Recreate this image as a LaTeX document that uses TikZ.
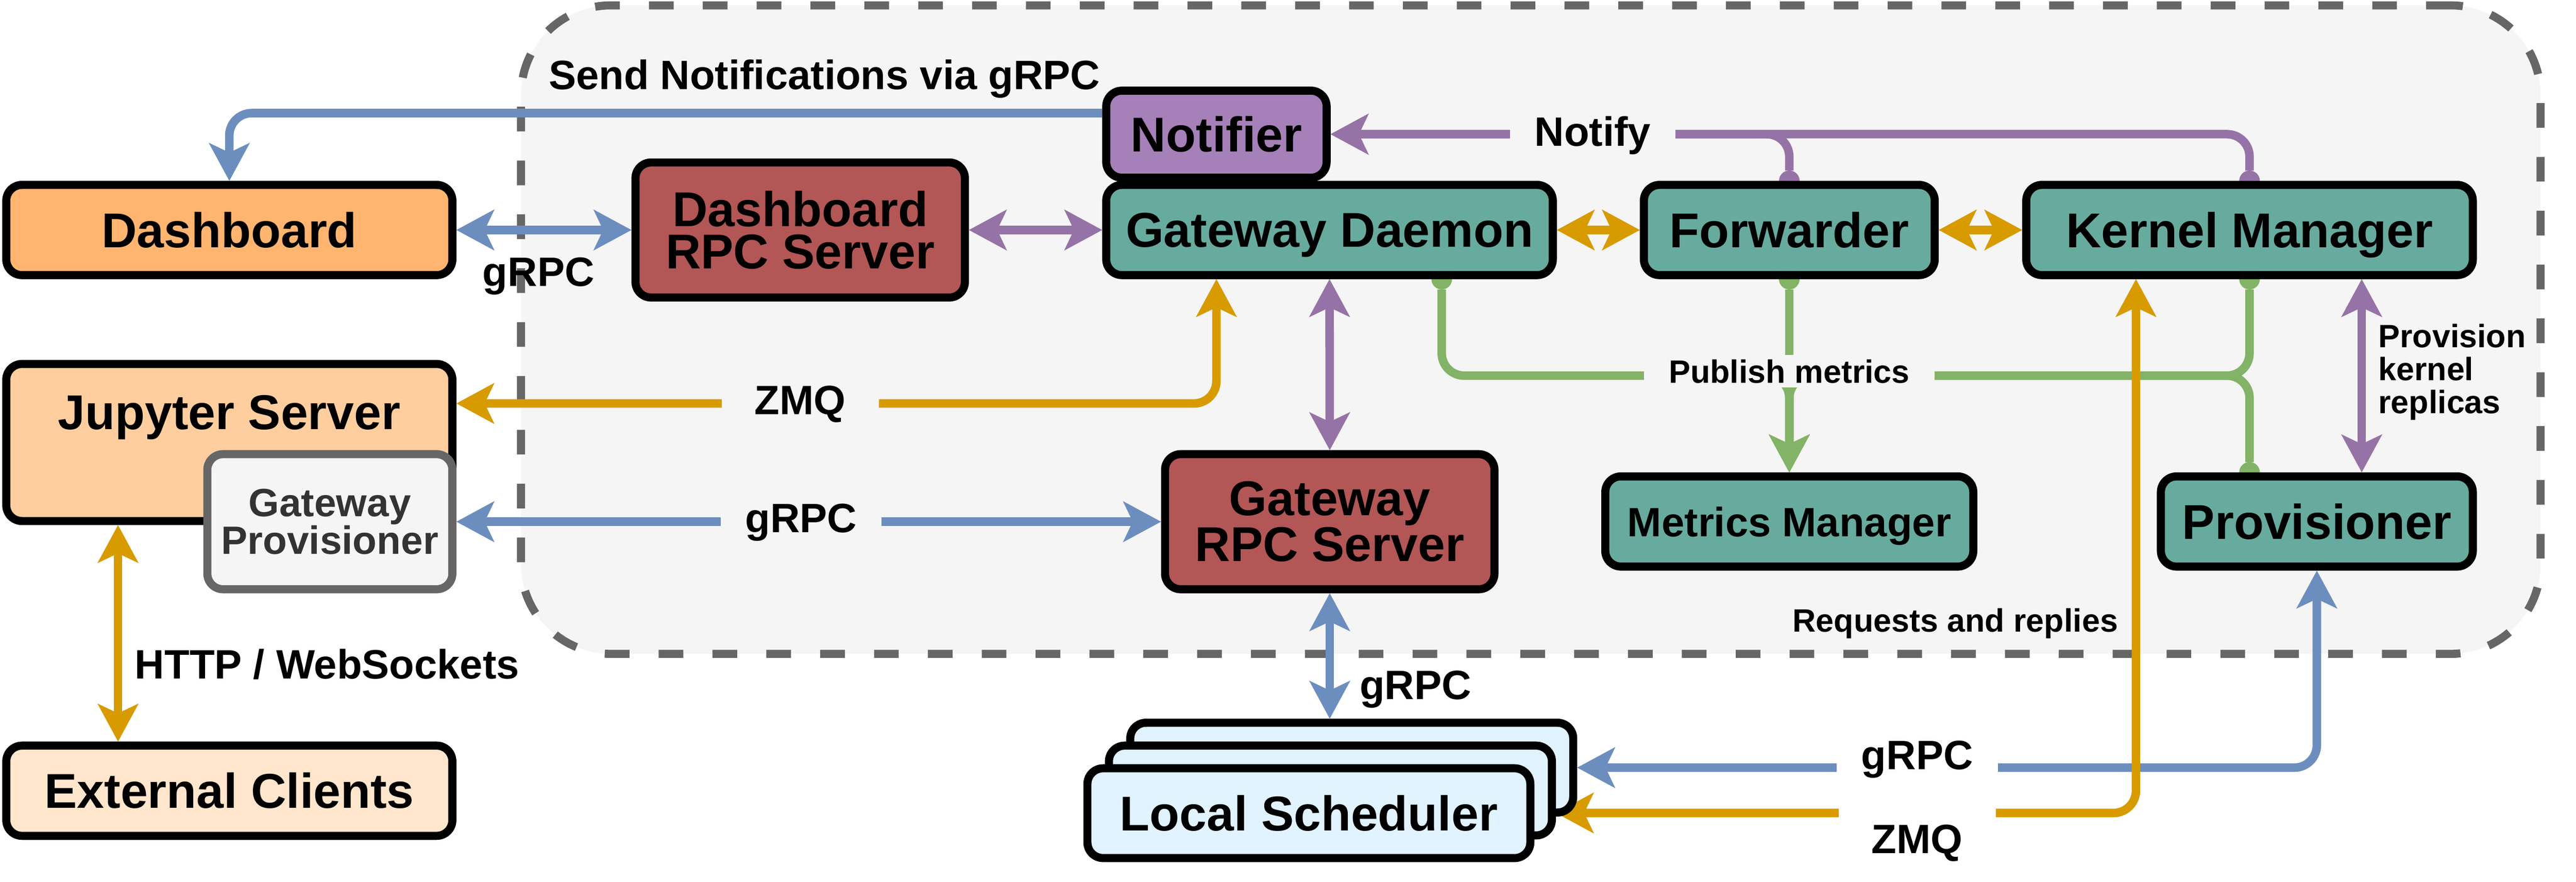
\documentclass[tikz,border=0pt]{standalone}
\usepackage{fontspec}
\setmainfont{Liberation Sans}
\usetikzlibrary{arrows.meta,positioning,calc}

\definecolor{dashorange}{HTML}{FFB570}
\definecolor{juporange}{HTML}{FFCE9F}
\definecolor{clientpeach}{HTML}{FFE6CC}
\definecolor{rpcred}{HTML}{B35656}
\definecolor{svcteal}{HTML}{67AB9F}
\definecolor{notepurple}{HTML}{A680B8}
\definecolor{schedblue}{HTML}{E1F3FE}
\definecolor{panelgray}{HTML}{F5F5F5}
\definecolor{edgegray}{HTML}{666666}
\definecolor{textgray}{HTML}{333333}
\definecolor{grpcblue}{HTML}{6C8EBF}
\definecolor{zmqgold}{HTML}{D79B00}
\definecolor{ctrlpurple}{HTML}{9673A6}
\definecolor{metricgreen}{HTML}{82B366}

\pgfdeclarelayer{back}
\pgfdeclarelayer{wires}
\pgfsetlayers{back,wires,main}

\tikzset{
    cluster/.style={
    rectangle,rounded corners=2cm,draw=edgegray,fill=panelgray,line width=0.18cm,
    dash pattern=on 0.55cm off 0.65cm,minimum width=45cm,minimum height=14.45cm,inner sep=0pt
    },
    component/.style={
    rectangle,rounded corners=0.35cm,draw=black,line width=0.18cm,inner sep=0pt,align=center,
    font=\fontsize{31}{27}\selectfont\bfseries
    },
    uibox/.style={
    component,minimum width=9.94cm,minimum height=2.01cm
    },
    rpcbox/.style={
    component,fill=rpcred,minimum width=7.34cm,minimum height=3.01cm
    },
    svcbox/.style={
    component,fill=svcteal,minimum height=2.01cm,text depth=0pt
    },
    notebox/.style={
    component,fill=notepurple,minimum width=4.91cm,minimum height=1.94cm
    },
    provbox/.style={
    component,draw=edgegray,fill=panelgray,text=textgray,minimum width=5.46cm,minimum height=3.01cm,
    font=\fontsize{25}{24}\selectfont\bfseries
    },
    schedbox/.style={
    component,fill=schedblue,minimum width=9.87cm,minimum height=2.0cm
    },
    edgelabel/.style={
    font=\fontsize{26}{26}\selectfont\bfseries,inner sep=0pt
    },
    cutlabel/.style={
    edgelabel,fill=panelgray,inner xsep=0.55cm,inner ysep=0.1cm,minimum width=3.5cm
    },
    smalllabel/.style={
    font=\fontsize{20.5}{21}\selectfont\bfseries,inner sep=0pt,align=left
    },
    conn/.style={
    line width=0.19cm,rounded corners=0.5cm
    },
    grpcconn/.style={conn,draw=grpcblue},
    zmqconn/.style={conn,draw=zmqgold},
    ctrlconn/.style={conn,draw=ctrlpurple},
    metricconn/.style={conn,draw=metricgreen},
    tap/.style={
    arrows={Circle[length=0.46cm,line width=0pt]->},shorten <=-0.23cm
    },
}

\begin{document}
\begin{tikzpicture}[>={Stealth[length=0.85cm,width=0.92cm,inset=0.22cm,line width=0pt]}]
   \useasboundingbox (0,0) rectangle (57.4,-19.65);

   \begin{pgfonlayer}{back}
   \node[cluster] (core) at (34.11,-7.345) {};
   \end{pgfonlayer}

   %top row
   \node[uibox,fill=dashorange] (dash) at (5.11,-5.125) {Dashboard};
   \node[rpcbox] (dashrpc) at (17.83,-5.125) {Dashboard\\RPC Server};
   \node[notebox] (notifier) at (27.105,-2.99) {Notifier};
   \node[svcbox,minimum width=9.95cm] (gdaemon) at (29.625,-5.125) {Gateway Daemon};
   \node[svcbox,minimum width=6.48cm] (fwd) at (39.87,-5.125) {Forwarder};
   \node[svcbox,minimum width=9.95cm] (kmgr) at (50.125,-5.125) {Kernel Manager};

   %middle row
   \node[uibox,fill=juporange,minimum height=3.5cm,
     label={[anchor=base,yshift=-1.55cm,inner sep=0pt,font=\fontsize{31}{27}\selectfont\bfseries]north:Jupyter Server}]
     (jupyter) at (5.11,-9.86) {};
   \node[provbox] (gprov) at (7.35,-11.625) {Gateway\\Provisioner};
   \node[rpcbox] (grpc) at (29.63,-11.625) {Gateway\\RPC Server};
   \node[svcbox,minimum width=8.2cm,font=\fontsize{26}{26}\selectfont\bfseries] (metrics) at (39.87,-11.62) {Metrics Manager};
   \node[svcbox,minimum width=6.95cm] (prov) at (51.625,-11.62) {Provisioner};

   %bottom row
   \node[uibox,fill=clientpeach] (extc) at (5.11,-17.62) {External Clients};
   \node[schedbox] (lsback) at (30.12,-17.105) {};
   \node[schedbox] (lsmid) at (29.645,-17.615) {};
   \node[schedbox] (lsfront) at (29.165,-18.12) {Local Scheduler};

   %labels
   \node[edgelabel,anchor=base] (sendlbl) at (18.37,-1.99) {Send Notifications via gRPC};
   \node[edgelabel,anchor=base] (dashlbl) at (12.0,-6.38) {gRPC};
   \node[cutlabel,anchor=base] (notifylbl) at (35.49,-3.25) {Notify};
   \node[cutlabel,anchor=base] (zmqa) at (17.83,-9.23) {ZMQ};
   \node[cutlabel,anchor=base] (grpca) at (17.85,-11.86) {gRPC};
   \node[edgelabel,anchor=base west] (httplbl) at (3.0,-15.13) {HTTP / WebSockets};
   \node[edgelabel,anchor=base west] (grpcb) at (30.29,-15.58) {gRPC};
   \node[cutlabel,anchor=base,font=\fontsize{20.5}{21}\selectfont\bfseries] (pubm) at (39.87,-8.53) {Publish metrics};
   \node[smalllabel,anchor=base] (reqlbl) at (43.57,-14.08) {Requests and replies};
   \node[smalllabel,anchor=west] (provlbl) at (52.99,-8.29) {Provision\\kernel\\replicas};
   \node[cutlabel,fill=white,anchor=base] (grpcc) at (42.72,-17.14) {gRPC};
   \node[cutlabel,fill=white,anchor=base,inner ysep=0.45cm] (zmqb) at (42.72,-19.02) {ZMQ};
   \coordinate (hub) at (39.87,-8.37);

   \begin{pgfonlayer}{wires}
   %dashboard side
   \draw[grpcconn,->] ([yshift=0.47cm]notifier.west) -| (dash.north);
   \draw[grpcconn,<->] (dash.east) -- (dashrpc.west);
   \draw[ctrlconn,<->] (dashrpc.east) -- (gdaemon.west);
   \draw[zmqconn,<->] (gdaemon.east) -- (fwd.west);
   \draw[zmqconn,<->] (fwd.east) -- (kmgr.west);

   %notify
   \draw[ctrlconn,tap] (kmgr.north) |- (notifier.east);
   \draw[ctrlconn,tap] (fwd.north) |- (notifier.east);

   %jupyter side
   \draw[zmqconn,<->] (notifier |- gdaemon.south) |- ([yshift=0.87cm]jupyter.east);
   \draw[grpcconn,<->] (gprov.east) -- (grpc.west);
   \draw[ctrlconn,<->] (gdaemon.south) -- (grpc.north);
   \draw[zmqconn,<->] ([xshift=-2.48cm]jupyter.south) -- ([xshift=-2.48cm]extc.north);
   \draw[grpcconn,<->] (grpc.south) -- (grpc.south |- lsback.north);

   %publish metrics
   \draw[metricconn,tap] ([xshift=2.5cm]gdaemon.south) |- (hub) -- (metrics.north);
   \draw[metricconn,tap] (fwd.south) -- (metrics.north);
   \draw[metricconn,tap] (kmgr.south) |- (hub) -- (metrics.north);
   \draw[metricconn,tap] (kmgr.south |- prov.north) |- (hub) -- (metrics.north);

   %provisioning
   \draw[ctrlconn,<->] ([xshift=2.5cm]kmgr.south) -- ([xshift=2.5cm]kmgr.south |- prov.north);
   \draw[grpcconn,<->] (prov.south) |- (lsback.east);
   \draw[zmqconn,<->] ([xshift=-2.53cm]kmgr.south) |- ([yshift=-0.5cm]lsmid.east);
   \end{pgfonlayer}
\end{tikzpicture}
\end{document}
